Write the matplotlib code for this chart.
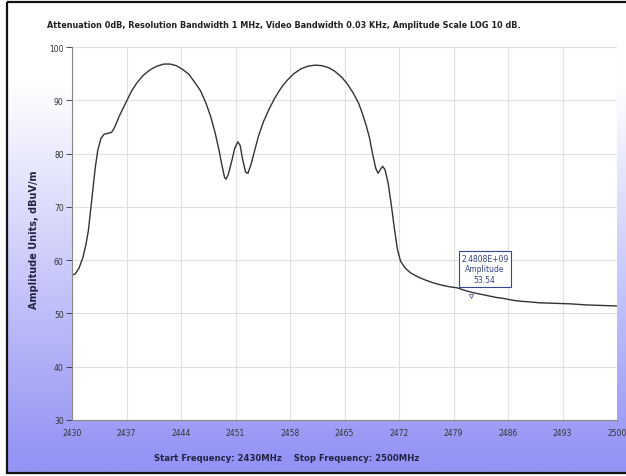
import numpy as np
import matplotlib
matplotlib.use("Agg")
import matplotlib.pyplot as plt
import matplotlib.patches as patches

# trace (MHz, dBuV/m)
freq = [2430.0, 2430.4, 2430.9, 2431.4, 2431.8, 2432.1, 2432.4, 2432.7, 2433.0, 2433.3,
        2433.7, 2434.1, 2434.6, 2435.1, 2435.5, 2436.0, 2436.5, 2437.0, 2437.6, 2438.3,
        2439.1, 2440.0, 2440.9, 2441.8, 2442.6, 2443.4, 2444.2, 2445.0, 2445.8, 2446.5,
        2447.2, 2447.8, 2448.4, 2448.9, 2449.3, 2449.6, 2449.8, 2450.1, 2450.5, 2450.9,
        2451.3, 2451.6, 2451.9, 2452.3, 2452.6, 2453.0, 2453.5, 2454.0, 2454.6, 2455.3,
        2456.0, 2456.8, 2457.6, 2458.5, 2459.4, 2460.3, 2461.2, 2462.1, 2463.0, 2463.8,
        2464.6, 2465.4, 2466.1, 2466.8, 2467.3, 2467.8, 2468.2, 2468.6, 2469.0, 2469.3,
        2469.6, 2469.9, 2470.2, 2470.6, 2471.0, 2471.4, 2471.8, 2472.2, 2472.8, 2473.5,
        2474.5, 2475.5, 2476.5, 2477.5, 2478.5, 2479.5, 2480.5, 2481.5, 2482.5, 2483.5,
        2484.5, 2485.5, 2486.5, 2487.5, 2488.5, 2490.0, 2492.0, 2494.0, 2496.0, 2498.0,
        2500.0]
amp = [57.2, 57.4, 58.5, 60.5, 63.0, 65.5, 69.5, 73.5, 77.5, 80.5,
       82.8, 83.6, 83.8, 84.0, 85.0, 86.8, 88.3, 89.8, 91.6, 93.2,
       94.6, 95.7, 96.4, 96.8, 96.8, 96.5, 95.8, 94.9, 93.3, 91.8,
       89.5, 87.0, 83.8, 80.5, 77.5, 75.5, 75.2, 76.2, 78.5, 81.0,
       82.2, 81.5, 79.0, 76.5, 76.3, 78.0, 80.8, 83.5, 86.0, 88.3,
       90.3, 92.2, 93.7, 95.0, 95.9, 96.4, 96.6, 96.5, 96.1, 95.4,
       94.4, 93.0, 91.4, 89.5, 87.5, 85.2, 83.0, 80.0, 77.3, 76.3,
       77.0, 77.6, 77.0, 74.5, 70.5, 66.0, 62.0, 59.8, 58.5, 57.6,
       56.8, 56.2, 55.7, 55.3, 55.0, 54.8, 54.3, 53.9, 53.6, 53.3,
       53.0, 52.8, 52.5, 52.3, 52.2, 52.0, 51.9, 51.8, 51.6, 51.5,
       51.4]

x_ticks = [2430, 2437, 2444, 2451, 2458, 2465, 2472, 2479, 2486, 2493, 2500]
y_ticks = [30, 40, 50, 60, 70, 80, 90, 100]

marker_freq = 2480.8
marker_amp = 53.54

W, H = 626, 477
fig = plt.figure(figsize=(W / 100, H / 100), dpi=100)
fig.patch.set_facecolor("white")

# background panel with white -> lavender gradient
bg = fig.add_axes([0, 0, 1, 1])
bg.set_xlim(0, W)
bg.set_ylim(H, 0)
bg.axis("off")
rows = np.linspace(3, 474, 300)
t = np.clip((rows - 85) / (460 - 85), 0, 1)[:, None]
top = np.array([1.0, 1.0, 1.0])
bot = np.array([148, 148, 245]) / 255
grad = (top * (1 - t) + bot * t)[:, None, :]
bg.imshow(grad, extent=(7, W, 474, 3), aspect="auto", zorder=0)
bg.add_patch(patches.Rectangle((7, 3), W, 471, fill=False, edgecolor="#111111",
                               linewidth=1.6, zorder=2))

bg.text(47, 26, "Attenuation 0dB, Resolution Bandwidth 1 MHz, Video Bandwidth 0.03 KHz, "
        "Amplitude Scale LOG 10 dB.", fontsize=5.9, fontweight="bold",
        color="#222222", va="center", ha="left")
bg.text(287, 459, "Start Frequency: 2430MHz    Stop Frequency: 2500MHz",
        fontsize=6.1, fontweight="bold", color="#222244", va="center", ha="center")
bg.text(34, 240, "Amplitude Units, dBuV/m", fontsize=7, fontweight="bold",
        color="#222244", rotation=90, va="center", ha="center")

ax = fig.add_axes([72 / W, 1 - 421 / H, 545 / W, 373 / H])
ax.set_facecolor("white")
ax.plot(freq, amp, color="#333333", linewidth=1.0)

ax.set_xlim(2430, 2500)
ax.set_ylim(30, 100)
ax.set_xticks(x_ticks)
ax.set_yticks(y_ticks)
ax.tick_params(axis="x", length=0, pad=6, labelsize=5.5, colors="#333333")
ax.tick_params(axis="y", length=4, width=0.6, pad=2, labelsize=5.5, colors="#333333")
ax.grid(True, color="#e0e0e0", linewidth=0.8)
ax.set_axisbelow(True)
for s in ["top", "right"]:
    ax.spines[s].set_visible(False)
for s in ["left", "bottom"]:
    ax.spines[s].set_color("#888888")
    ax.spines[s].set_linewidth(0.8)
for lab in ax.get_xticklabels():
    lab.set_clip_on(False)

# marker readout box
ax.text(marker_freq + 2.2, marker_amp + 4.8,
        "2.4808E+09\nAmplitude\n%.2f" % marker_amp, fontsize=5.5, color="#334488",
        ha="center", va="center", linespacing=1.25,
        bbox=dict(boxstyle="square,pad=0.3", facecolor="white", edgecolor="#334499",
                  linewidth=0.8))
ax.plot([marker_freq + 0.5], [marker_amp - 0.3], marker="v", markersize=3,
        color="#556699", markerfacecolor="none", markeredgewidth=0.6)

fig.savefig("out.png", dpi=100)
